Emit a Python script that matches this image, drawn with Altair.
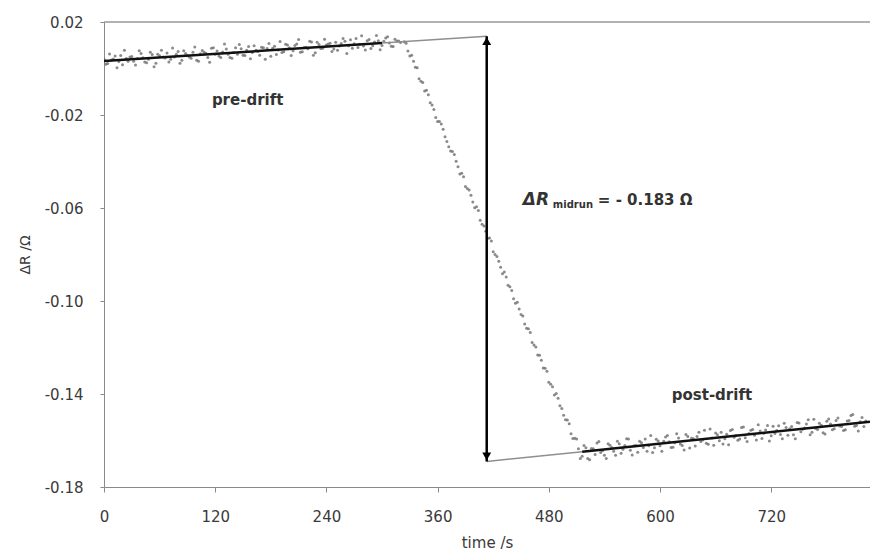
import altair as alt
import pandas as pd

# ---- measured data (time in s, delta R in ohm) ----
pre_t = list(range(0, 324, 4))
pre_y = [0.0040, 0.0021, 0.0037, 0.0054, 0.0030, 0.0016, 0.0043, 0.0050, 0.0031, 0.0043,
         0.0065, 0.0028, 0.0040, 0.0060, 0.0023, 0.0055, 0.0049, 0.0067, 0.0040, 0.0049,
         0.0073, 0.0036, 0.0064, 0.0049, 0.0070, 0.0036, 0.0063, 0.0070, 0.0047, 0.0087,
         0.0061, 0.0054, 0.0071, 0.0084, 0.0047, 0.0069, 0.0061, 0.0085, 0.0056, 0.0095,
         0.0069, 0.0078, 0.0057, 0.0089, 0.0086, 0.0053, 0.0096, 0.0080, 0.0069, 0.0104,
         0.0089, 0.0076, 0.0105, 0.0070, 0.0090, 0.0085, 0.0114, 0.0068, 0.0103, 0.0087,
         0.0101, 0.0109, 0.0084, 0.0078, 0.0108, 0.0117, 0.0098, 0.0087, 0.0129, 0.0104,
         0.0097, 0.0119, 0.0086, 0.0114, 0.0119, 0.0099, 0.0131, 0.0110, 0.0095, 0.0118,
         0.0112]
pre_t2 = list(range(2, 322, 4))
pre_y2 = [0.0018, 0.0062, 0.0041, 0.0003, 0.0056, 0.0078, 0.0031, 0.0052, 0.0015, 0.0076,
          0.0046, 0.0025, 0.0070, 0.0008, 0.0061, 0.0079, 0.0045, 0.0028, 0.0088, 0.0061,
          0.0023, 0.0076, 0.0056, 0.0044, 0.0093, 0.0031, 0.0077, 0.0066, 0.0027, 0.0089,
          0.0075, 0.0047, 0.0105, 0.0061, 0.0044, 0.0089, 0.0103, 0.0057, 0.0079, 0.0042,
          0.0098, 0.0073, 0.0091, 0.0040, 0.0107, 0.0087, 0.0060, 0.0116, 0.0072, 0.0101,
          0.0056, 0.0099, 0.0125, 0.0072, 0.0091, 0.0117, 0.0057, 0.0113, 0.0086, 0.0126,
          0.0105, 0.0073, 0.0113, 0.0097, 0.0129, 0.0064, 0.0124, 0.0106, 0.0090, 0.0141,
          0.0080, 0.0125, 0.0098, 0.0142, 0.0081, 0.0117, 0.0137, 0.0096, 0.0126, 0.0118]
drop_t = list(range(324, 516, 4))
drop_y = [0.0115, 0.0075, 0.0057, 0.0005, -0.0044, -0.0060, -0.0094, -0.0147, -0.0176, -0.0228,
          -0.0239, -0.0294, -0.0337, -0.0357, -0.0399, -0.0454, -0.0466, -0.0516, -0.0545, -0.0599,
          -0.0611, -0.0670, -0.0700, -0.0729, -0.0788, -0.0809, -0.0855, -0.0875, -0.0932, -0.0955,
          -0.1010, -0.1034, -0.1064, -0.1117, -0.1135, -0.1189, -0.1232, -0.1255, -0.1289, -0.1349,
          -0.1369, -0.1398, -0.1451, -0.1491, -0.1512, -0.1571, -0.1590, -0.1635]
drop_t2 = list(range(326, 518, 4))
drop_y2 = [0.0109, 0.0054, 0.0031, 0.0003, -0.0055, -0.0097, -0.0113, -0.0157, -0.0211, -0.0228,
           -0.0261, -0.0314, -0.0355, -0.0370, -0.0423, -0.0451, -0.0508, -0.0523, -0.0574, -0.0595,
           -0.0653, -0.0677, -0.0730, -0.0742, -0.0800, -0.0829, -0.0883, -0.0897, -0.0939, -0.0990,
           -0.1005, -0.1058, -0.1099, -0.1119, -0.1179, -0.1198, -0.1233, -0.1288, -0.1302, -0.1358,
           -0.1404, -0.1418, -0.1462, -0.1511, -0.1528, -0.1591, -0.1594, -0.1677]
post_t = list(range(516, 824, 4))
post_y = [-0.1668, -0.1631, -0.1683, -0.1635, -0.1611, -0.1652, -0.1663, -0.1614, -0.1630, -0.1663,
          -0.1614, -0.1638, -0.1593, -0.1642, -0.1623, -0.1651, -0.1610, -0.1594, -0.1623, -0.1652,
          -0.1595, -0.1623, -0.1603, -0.1578, -0.1630, -0.1610, -0.1589, -0.1622, -0.1574, -0.1632,
          -0.1593, -0.1583, -0.1604, -0.1556, -0.1616, -0.1589, -0.1568, -0.1601, -0.1615, -0.1573,
          -0.1557, -0.1586, -0.1599, -0.1544, -0.1588, -0.1570, -0.1553, -0.1598, -0.1559, -0.1569,
          -0.1536, -0.1580, -0.1570, -0.1537, -0.1593, -0.1544, -0.1549, -0.1575, -0.1523, -0.1562,
          -0.1546, -0.1511, -0.1565, -0.1548, -0.1526, -0.1567, -0.1517, -0.1529, -0.1549, -0.1503,
          -0.1540, -0.1554, -0.1514, -0.1488, -0.1536, -0.1519, -0.1540]
post_t2 = list(range(518, 826, 4))
post_y2 = [-0.1622, -0.1677, -0.1634, -0.1660, -0.1604, -0.1644, -0.1677, -0.1620, -0.1646, -0.1603,
           -0.1655, -0.1622, -0.1594, -0.1662, -0.1622, -0.1603, -0.1630, -0.1646, -0.1579, -0.1631,
           -0.1602, -0.1646, -0.1585, -0.1605, -0.1629, -0.1571, -0.1615, -0.1641, -0.1583, -0.1590,
           -0.1624, -0.1565, -0.1598, -0.1612, -0.1551, -0.1620, -0.1575, -0.1564, -0.1593, -0.1618,
           -0.1553, -0.1579, -0.1594, -0.1542, -0.1604, -0.1556, -0.1577, -0.1532, -0.1591, -0.1555,
           -0.1602, -0.1539, -0.1557, -0.1574, -0.1526, -0.1577, -0.1540, -0.1592, -0.1525, -0.1552,
           -0.1529, -0.1575, -0.1509, -0.1553, -0.1534, -0.1572, -0.1508, -0.1554, -0.1514, -0.1538,
           -0.1557, -0.1516, -0.1492, -0.1539, -0.1559, -0.1501, -0.1516]

# fitted drift lines (black) and their extrapolations (grey)
fit_pre_t = [0, 300]
fit_pre_y = [0.0032, 0.0110]
ext_pre_t = [300, 413]
ext_pre_y = [0.0110, 0.0139]
fit_post_t = [516, 826.6]
fit_post_y = [-0.1648, -0.1519]
ext_post_t = [413, 516]
ext_post_y = [-0.1690, -0.1648]
mid_t = 413
mid_top = 0.0139
mid_bottom = -0.1690

x_ticks = [0, 120, 240, 360, 480, 600, 720]
y_ticks = [-0.18, -0.14, -0.10, -0.06, -0.02, 0.02]
X_MAX = 826.6

FONT = "DejaVu Sans"
GREY = "#8a8a8a"
TXT = "#3a3a3a"

xs = alt.Scale(domain=[0, X_MAX], nice=False, zero=False)
ys = alt.Scale(domain=[-0.18, 0.02], nice=False, zero=False)

pts = pd.DataFrame({"t": pre_t + pre_t2 + drop_t + drop_t2 + post_t + post_t2,
                    "r": pre_y + pre_y2 + drop_y + drop_y2 + post_y + post_y2})

xaxis = alt.Axis(values=x_ticks, title="time /s", grid=False, labelFontSize=15,
                 labelColor=TXT, labelFont=FONT, domainColor=GREY, tickColor=GREY,
                 tickSize=5, labelPadding=17, titleFont=FONT, titleFontSize=15,
                 titleFontWeight="normal", titleColor=TXT, titlePadding=11,
                 labelFlush=False)
yaxis = alt.Axis(values=y_ticks, title="ΔR /Ω", grid=False, labelFontSize=15,
                 labelExpr="replace(format(datum.value, '.2f'), '\u2212', '-')",
                 labelColor=TXT, labelFont=FONT, domainColor=GREY, tickColor=GREY,
                 tickSize=4, labelPadding=17, titleFont=FONT, titleFontSize=14,
                 titleFontWeight="normal", titleColor=TXT, titlePadding=12)

dots = alt.Chart(pts).mark_circle(size=9, color="#6e6e6e", opacity=0.8, clip=True).encode(
    x=alt.X("t:Q", scale=xs, axis=xaxis),
    y=alt.Y("r:Q", scale=ys, axis=yaxis),
)


def seg(ts, vals, color, width):
    df = pd.DataFrame({"t": ts, "r": vals})
    return alt.Chart(df).mark_line(color=color, strokeWidth=width, clip=True).encode(
        x=alt.X("t:Q", scale=xs), y=alt.Y("r:Q", scale=ys))


top_border = alt.Chart(pd.DataFrame({"r": [0.02]})).mark_rule(color="#999999", strokeWidth=1.5).encode(
    y=alt.Y("r:Q", scale=ys))

arrow_df = pd.DataFrame({"t": [mid_t], "a": [mid_top], "b": [mid_bottom]})
arrow = alt.Chart(arrow_df).mark_rule(color="black", strokeWidth=2.5).encode(
    x=alt.X("t:Q", scale=xs), y=alt.Y("a:Q", scale=ys), y2="b:Q")
head_up = alt.Chart(pd.DataFrame({"t": [mid_t], "r": [mid_top]})).mark_point(
    shape="triangle-up", filled=True, color="black", size=80, opacity=1, yOffset=5).encode(
    x=alt.X("t:Q", scale=xs), y=alt.Y("r:Q", scale=ys))
head_down = alt.Chart(pd.DataFrame({"t": [mid_t], "r": [mid_bottom]})).mark_point(
    shape="triangle-down", filled=True, color="black", size=80, opacity=1, yOffset=-5).encode(
    x=alt.X("t:Q", scale=xs), y=alt.Y("r:Q", scale=ys))

labels_df = pd.DataFrame({"t": [155, 656], "r": [-0.0136, -0.1404], "txt": ["pre-drift", "post-drift"]})
labels = alt.Chart(labels_df).mark_text(font=FONT, fontSize=15, fontWeight="bold", color="#333333").encode(
    x=alt.X("t:Q", scale=xs), y=alt.Y("r:Q", scale=ys), text="txt:N")

ann_t = 452
ann_r = -0.0587
ann1 = alt.Chart(pd.DataFrame({"t": [ann_t], "r": [ann_r], "txt": ["ΔR"]})).mark_text(
    font=FONT, fontSize=17, fontWeight="bold", fontStyle="italic", color="#333333", align="left",
    baseline="alphabetic").encode(x=alt.X("t:Q", scale=xs), y=alt.Y("r:Q", scale=ys), text="txt:N")
ann2 = alt.Chart(pd.DataFrame({"t": [ann_t], "r": [ann_r], "txt": ["midrun"]})).mark_text(
    font=FONT, fontSize=10, fontWeight="bold", color="#333333", align="left", baseline="alphabetic",
    dx=30, dy=3).encode(x=alt.X("t:Q", scale=xs), y=alt.Y("r:Q", scale=ys), text="txt:N")
ann3 = alt.Chart(pd.DataFrame({"t": [ann_t], "r": [ann_r], "txt": ["= - 0.183 Ω"]})).mark_text(
    font=FONT, fontSize=15, fontWeight="bold", color="#333333", align="left",
    baseline="alphabetic", dx=75).encode(x=alt.X("t:Q", scale=xs), y=alt.Y("r:Q", scale=ys), text="txt:N")

chart = alt.layer(
    top_border,
    dots,
    seg(ext_pre_t, ext_pre_y, "#8f8f8f", 1.5),
    seg(ext_post_t, ext_post_y, "#8f8f8f", 1.5),
    seg(fit_pre_t, fit_pre_y, "#111111", 2.5),
    seg(fit_post_t, fit_post_y, "#111111", 2.5),
    arrow, head_up, head_down,
    labels, ann1, ann2, ann3,
).properties(
    width=766, height=465, autosize="none",
    padding={"left": 104, "top": 22, "right": 0, "bottom": 67},
    background="white",
).configure_view(stroke=None)

chart.save("out.html", embed_options={"renderer": "svg", "actions": False})
